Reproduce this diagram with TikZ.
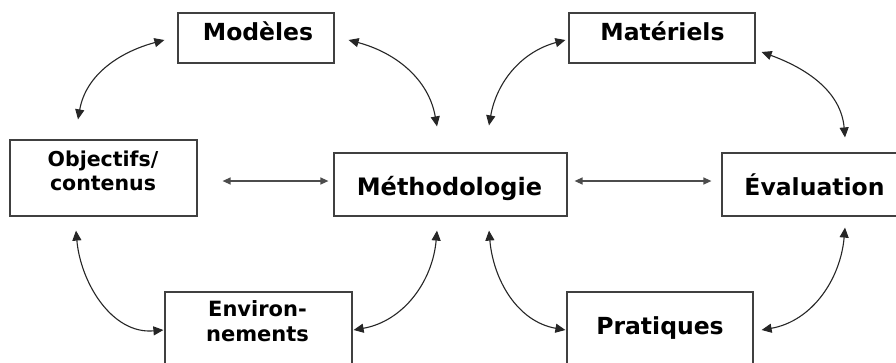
\documentclass[tikz,border=0pt]{standalone}
\usepackage{fontspec}
\setmainfont{DejaVu Sans}
\usetikzlibrary{arrows.meta}
\begin{document}
\begin{tikzpicture}[x=1pt,y=-1pt,
  box/.style={draw=black!75,line width=1.2pt,rectangle,inner sep=0pt},
  big/.style={font=\bfseries\fontsize{23.5}{28}\selectfont,inner sep=0pt,anchor=base},
  small/.style={font=\bfseries\fontsize{20.5}{24.5}\selectfont,inner sep=0pt,align=center},
  arr/.style={draw=black!85,line width=1.1pt,{Triangle[length=10pt,width=9pt]}-{Triangle[length=10pt,width=9pt]}},
  harr/.style={draw=black!70,line width=1.3pt,{Triangle[length=8pt,width=7pt]}-{Triangle[length=8pt,width=7pt]}}]
\useasboundingbox (0,0) rectangle (896,362);
\fill[white] (0,0) rectangle (896,362);
% boxes
\node[box,minimum width=156pt,minimum height=50pt] (mod) at (256,38) {};
\node[box,minimum width=186pt,minimum height=50pt] (mat) at (662,38) {};
\node[box,minimum width=187pt,minimum height=76pt] (obj) at (103.5,178) {};
\node[box,minimum width=233pt,minimum height=63pt] (met) at (450.5,184.5) {};
\node[box,minimum width=188pt,minimum height=63pt] (eva) at (816,184.5) {};
\node[box,minimum width=187pt,minimum height=80pt] (env) at (258.5,332) {};
\node[box,minimum width=186pt,minimum height=80pt] (pra) at (660,332) {};
% labels
\node[big] (modT) at (258,40) {Modèles};
\node[big] (matT) at (662.5,40) {Matériels};
\node[big,font=\bfseries\fontsize{24}{28}\selectfont] (metT) at (449.5,195) {Méthodologie};
\node[big] (evaT) at (814.5,195) {Évaluation};
\node[big] (praT) at (660,334.3) {Pratiques};
\node[small] (objT) at (103,171) {Objectifs/\\contenus};
\node[small,font=\bfseries\fontsize{21}{25.5}\selectfont] (envT) at (257.5,321) {Environ-\\nements};
% curved connectors
\draw[arr] ([shift={(-13,2)}]mod.west) to[out=195,in=80] ([shift={(-25.5,-20)}]obj.north);
\draw[arr] ([shift={(14,2)}]mod.east) to[out=-15,in=100] ([shift={(-13.5,-26)}]met.north);
\draw[arr] ([shift={(-3,2)}]mat.west) to[out=195,in=80] ([shift={(38.5,-27)}]met.north);
\draw[arr] ([shift={(6,14)}]mat.east) to[out=-20,in=95] ([shift={(29,-15)}]eva.north);
\draw[arr] ([shift={(-27.5,14)}]obj.south) to[out=-85,in=185] ([shift={(-1,-2)}]env.west);
\draw[arr] ([shift={(-13.5,14)}]met.south) to[out=-95,in=10] ([shift={(1,-2)}]env.east);
\draw[arr] ([shift={(38.5,14)}]met.south) to[out=-85,in=170] ([shift={(-1,-2)}]pra.west);
\draw[arr] ([shift={(29,11)}]eva.south) to[out=-95,in=10] ([shift={(8,-2)}]pra.east);
% horizontal connectors
\draw[harr] ([shift={(25,3)}]obj.east) -- ([shift={(-5,-3.5)}]met.west);
\draw[harr] ([shift={(7,-3.5)}]met.east) -- ([shift={(-10,-3.5)}]eva.west);
\end{tikzpicture}
\end{document}
